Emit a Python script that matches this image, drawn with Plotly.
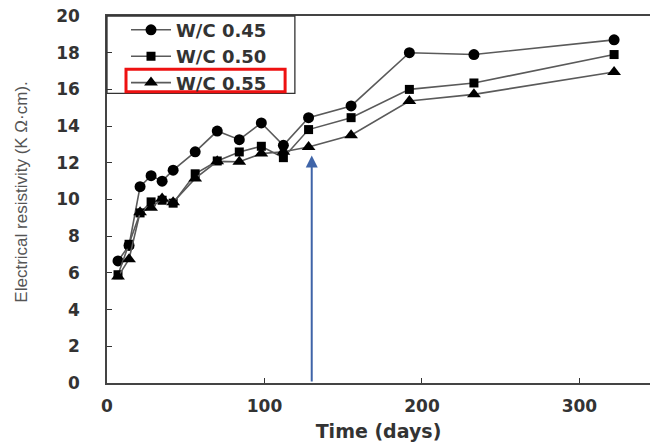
import plotly.graph_objects as go

days = [7, 14, 21, 28, 35, 42, 56, 70, 84, 98, 112, 128, 155, 192, 233, 322]
wc045 = [6.65, 7.5, 10.7, 11.3, 11.0, 11.6, 12.6, 13.73, 13.26, 14.17, 12.95, 14.46, 15.1, 18.0, 17.9, 18.7]
wc050 = [5.9, 7.56, 9.27, 9.87, 9.96, 9.8, 11.4, 12.1, 12.59, 12.9, 12.28, 13.81, 14.46, 16.0, 16.35, 17.9]
wc055 = [5.8, 6.75, 9.3, 9.55, 10.05, 9.85, 11.15, 12.08, 12.06, 12.5, 12.6, 12.86, 13.5, 15.37, 15.73, 16.95]
series_names = ["W/C 0.45", "W/C 0.50", "W/C 0.55"]
x_ticks = [0, 100, 200, 300]
y_ticks = [0, 2, 4, 6, 8, 10, 12, 14, 16, 18, 20]
arrow_day = 130
arrow_top = 12.4

BOLD = dict(family="DejaVu Sans", weight="bold", color="#333333")

fig = go.Figure()
symbols = ["circle", "square", "triangle-up"]
sizes = [11, 9, 12]
for name, ys, sym, sz in zip(series_names, [wc045, wc050, wc055], symbols, sizes):
    fig.add_trace(go.Scatter(
        x=days, y=ys, name=name, mode="lines+markers",
        line=dict(color="#5a5a5a", width=1.6),
        marker=dict(symbol=sym, size=sz, color="black"),
    ))

fig.add_annotation(
    x=arrow_day, y=arrow_top, ax=arrow_day, ay=0,
    xref="x", yref="y", axref="x", ayref="y",
    showarrow=True, arrowhead=2, arrowsize=1.2, arrowwidth=2,
    arrowcolor="#3f64a8", text="",
)

# legend frame and red highlight box
fig.add_shape(type="rect", xref="paper", yref="paper",
              x0=0, x1=0.346, y0=0.789, y1=1.0,
              line=dict(color="#333333", width=1.3), fillcolor="rgba(0,0,0,0)")
fig.add_shape(type="rect", xref="paper", yref="paper",
              x0=0.035, x1=0.328, y0=0.7936, y1=0.8547,
              line=dict(color="#ee1111", width=3), fillcolor="rgba(0,0,0,0)")

fig.add_annotation(
    text="Electrical resistivity (K \u03a9\u00b7cm).", textangle=-90,
    xref="paper", yref="paper", x=-0.1565, y=0.5187,
    xanchor="center", yanchor="middle", showarrow=False,
    font=dict(family="Liberation Sans Narrow, Arial Narrow, Liberation Sans", size=17, color="#555555"),
)

fig.update_layout(
    width=650, height=442,
    margin=dict(l=107, r=0, t=16, b=59),
    paper_bgcolor="white", plot_bgcolor="white",
    showlegend=True,
    legend=dict(x=0.035, y=1.012, xanchor="left", yanchor="top",
                bgcolor="rgba(0,0,0,0)", borderwidth=0,
                font=dict(size=18, **BOLD), itemwidth=40,
                tracegroupgap=0),
    xaxis=dict(range=[0, 344.8], tickvals=x_ticks, ticks="inside", ticklen=5,
               tickcolor="#333333", showline=True, linecolor="#444444", linewidth=1.5,
               mirror=True, showgrid=False, zeroline=False,
               tickfont=dict(size=17, **BOLD), ticklabelstandoff=7,
               title=dict(text="Time (days)", font=dict(size=19, **BOLD), standoff=10)),
    yaxis=dict(range=[0, 20], tickvals=y_ticks, ticks="inside", ticklen=5,
               tickcolor="#333333", showline=True, linecolor="#444444", linewidth=1.5,
               showgrid=False, zeroline=False,
               tickfont=dict(size=17, **BOLD), ticklabelstandoff=22),
)

fig.write_html("out.html")
